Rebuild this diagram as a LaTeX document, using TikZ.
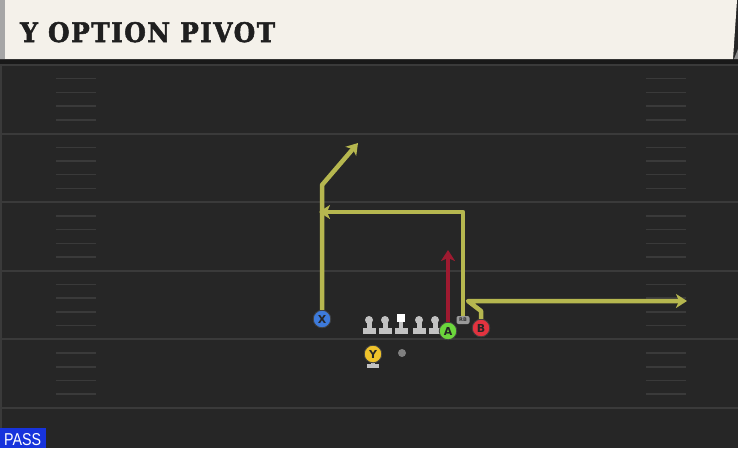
\documentclass[tikz,border=0pt]{standalone}
\usepackage{fontspec}
\setmainfont{DejaVu Serif}
\setsansfont{DejaVu Sans}
\newfontfamily\passfont{Liberation Sans}
\newfontfamily\titlefont{DejaVu Serif}[LetterSpace=6, BoldFeatures={FakeBold=2}]
\usetikzlibrary{arrows.meta}
\definecolor{fieldgray}{HTML}{262626}
\definecolor{linegray}{HTML}{3A3A3A}
\definecolor{titlecream}{HTML}{F4F1EA}
\definecolor{routeyellow}{HTML}{B6B74F}
\definecolor{routered}{HTML}{9E1A30}
\definecolor{xblue}{HTML}{3D7ADB}
\definecolor{ygold}{HTML}{EFC22B}
\definecolor{agreen}{HTML}{6CD63C}
\definecolor{bred}{HTML}{E2333F}
\definecolor{olgray}{HTML}{C2C2C2}
\definecolor{passblue}{HTML}{1733DC}

\begin{document}
\begin{tikzpicture}[x=1pt,y=-1pt,
playernode/.style={circle, draw=black!75, line width=0.8pt, minimum size=17.5pt, inner sep=0pt, font=\sffamily\bfseries\fontsize{11}{11}\selectfont, text=black!85},
headnode/.style={circle, fill=olgray, minimum size=8pt, inner sep=0pt},
routeline/.style={line width=4.5pt, draw=routeyellow, line join=round, -{Stealth[length=11pt,width=14pt,inset=3pt]}},
yardline/.style={draw=linegray, line width=2pt},
hashline/.style={draw=linegray, line width=1.5pt}
]
    \useasboundingbox (0,0) rectangle (738,448);
    \fill[fieldgray] (0,0) rectangle (738,448);
    \draw[linegray, line width=2pt] (1,64) -- (1,448);

    % yard lines and hashes
    \foreach \yy in {65,133.6,202.2,270.8,339.4,408}
        \draw[yardline] (2,\yy) -- (738,\yy);
    \foreach \s in {0,...,4}
        \foreach \k in {1,...,4} {
            \draw[hashline] (56,65+68.6*\s+13.7*\k) -- (96,65+68.6*\s+13.7*\k);
            \draw[hashline] (646,65+68.6*\s+13.7*\k) -- (686,65+68.6*\s+13.7*\k);
        }

    % title bar
    \fill[black!90] (0,59) rectangle (738,64);
    \fill[titlecream] (0,0) -- (737,0) -- (733,59) -- (0,59) -- cycle;
    \fill[black!45] (734,59) -- (738,49) -- (738,59) -- cycle;
    \fill[black!35] (0,0) rectangle (5,59);
    \node[anchor=base west, inner sep=0pt, text=black!88] (title) at (20,42)
        {\resizebox{255pt}{20pt}{\titlefont\bfseries Y OPTION PIVOT}};

    % offensive line
    \foreach \x/\n in {369/1,385/2,419/4,435/5} {
        \fill[olgray] (\x-2.5,320) rectangle (\x+2.5,330);
        \fill[olgray] (\x-6.5,328) rectangle (\x+6.5,334);
        \node[headnode] (ol\n) at (\x,320) {};
    }
    \fill[olgray] (399,318) rectangle (403,330);
    \fill[olgray] (394.5,328) rectangle (407.5,334);
    \node[fill=white, minimum size=8pt, inner sep=0pt] (ol3) at (401,318) {};

    % players
    \fill[olgray] (371,362) rectangle (375,365);
    \fill[olgray] (367,364) rectangle (379,368);
    \node[playernode, fill=ygold] (y) at (373,354) {Y};
    \node[circle, fill=black!50, minimum size=8pt, inner sep=0pt] (qb) at (402,353) {};
    \node[playernode, fill=xblue] (x) at (322,319) {X};
    \node[playernode, fill=agreen] (a) at (448,331) {A};
    \node[playernode, fill=bred] (b) at (481,328) {B};
    \node[fill=black!40, rounded corners=2pt, minimum width=13pt, minimum height=8pt, inner sep=0pt,
        font=\sffamily\bfseries\fontsize{5}{5}\selectfont, text=black!80] (rb) at (463,320) {RB};

    % routes
    \coordinate (xbreak) at (322,185);
    \coordinate (xend) at (358,143);
    \coordinate (pivtop) at (463,212);
    \coordinate (pivend) at (319,212);
    \coordinate (bstem) at (481,311);
    \coordinate (bcut) at (468,301);
    \coordinate (bend) at (687,301);
    \coordinate (aend) at (448,250);
    \draw[routeline] (x) -- (xbreak) -- (xend);
    \draw[routeline] (rb) -- (pivtop) -- (pivend);
    \draw[routeline] (b) -- (bstem) -- (bcut) -- (bend);
    \draw[routeline, draw=routered] (a) -- (aend);

    % play type
    \node[fill=passblue, anchor=south west, minimum width=46pt, minimum height=20pt, inner sep=0pt] (pass) at (0,448) {};
    \node[text=white, anchor=base west, inner sep=0pt] (passtext) at (4,445) {\passfont\resizebox{37pt}{12pt}{PASS}};
\end{tikzpicture}
\end{document}
